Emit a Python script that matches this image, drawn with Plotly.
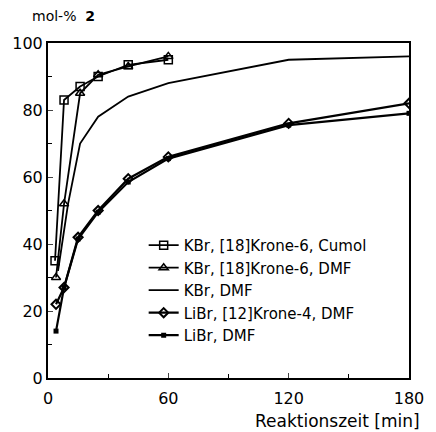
import plotly.graph_objects as go

# Data
cumol_x = [3.5, 8, 16, 25, 40, 60]
cumol_y = [35, 83, 87, 90, 93.5, 95]

k18_dmf_x = [4, 8, 16, 25, 40, 60]
k18_dmf_y = [30, 52, 85, 90.5, 93, 96]

kbr_dmf_x = [5, 10, 16, 25, 40, 60, 120, 180]
kbr_dmf_y = [32, 52, 70, 78, 84, 88, 95, 96]

li12_x = [4, 8, 15, 25, 40, 60, 120, 180]
li12_y = [22, 27, 42, 50, 59.5, 66, 76, 82]

li_dmf_x = [4, 8, 15, 25, 40, 60, 120, 180]
li_dmf_y = [14, 27, 41.5, 49.5, 58.5, 65.5, 75.5, 79]

names = ["KBr, [18]Krone-6, Cumol", "KBr, [18]Krone-6, DMF", "KBr, DMF",
         "LiBr, [12]Krone-4, DMF", "LiBr, DMF"]

FONT = "DejaVu Sans, Liberation Sans, sans-serif"

fig = go.Figure()
fig.add_trace(go.Scatter(x=cumol_x, y=cumol_y, name=names[0], mode="lines+markers",
                         line=dict(color="black", width=1.8),
                         marker=dict(symbol="square-open", size=8, color="black", line=dict(width=1.5))))
fig.add_trace(go.Scatter(x=k18_dmf_x, y=k18_dmf_y, name=names[1], mode="lines+markers",
                         line=dict(color="black", width=1.8),
                         marker=dict(symbol="triangle-up-open", size=8, color="black", line=dict(width=1.5))))
fig.add_trace(go.Scatter(x=kbr_dmf_x, y=kbr_dmf_y, name=names[2], mode="lines",
                         line=dict(color="black", width=1.8)))
fig.add_trace(go.Scatter(x=li12_x, y=li12_y, name=names[3], mode="lines+markers",
                         line=dict(color="black", width=2.2),
                         marker=dict(symbol="diamond-open", size=7, color="black", line=dict(width=2))))
fig.add_trace(go.Scatter(x=li_dmf_x, y=li_dmf_y, name=names[4], mode="lines+markers",
                         line=dict(color="black", width=2.2),
                         marker=dict(symbol="square", size=5, color="black")))

fig.update_layout(
    width=436, height=432,
    margin=dict(l=46, r=17, t=43, b=54),
    paper_bgcolor="white", plot_bgcolor="white",
    font=dict(family=FONT, color="black", size=15),
    showlegend=True,
    legend=dict(x=0.265, y=0.445, xanchor="left", yanchor="top",
                font=dict(size=15, family=FONT), bgcolor="rgba(0,0,0,0)",
                tracegroupgap=0, itemwidth=30),
    xaxis=dict(range=[0, 180], tickvals=[0, 60, 120, 180], ticks="inside", ticklen=5,
               showline=True, linecolor="black", linewidth=2, mirror=True,
               showgrid=False, zeroline=False, tickfont=dict(size=16, family=FONT),
               ticklabelstandoff=5,
               minor=dict(dtick=30, ticks="inside", ticklen=4, tickcolor="black", showgrid=False)),
    yaxis=dict(range=[0, 100], tickvals=[0, 20, 40, 60, 80, 100], ticks="inside", ticklen=5,
               showline=True, linecolor="black", linewidth=2, mirror=True,
               showgrid=False, zeroline=False, tickfont=dict(size=16, family=FONT),
               minor=dict(dtick=10, ticks="inside", ticklen=4, tickcolor="black", showgrid=False)),
    annotations=[
        dict(text="mol-%&nbsp;&nbsp;<b>2</b>", xref="paper", yref="paper", x=-0.038, y=1.0,
             yshift=17, xshift=-4, xanchor="left", yanchor="bottom", showarrow=False,
             font=dict(size=14, family=FONT)),
        dict(text="Reaktionszeit [min]", xref="paper", yref="paper", x=1.0, y=0,
             yshift=-31, xshift=13, xanchor="right", yanchor="top", showarrow=False,
             font=dict(size=17, family=FONT)),
    ],
)

fig.write_html("out.html")
